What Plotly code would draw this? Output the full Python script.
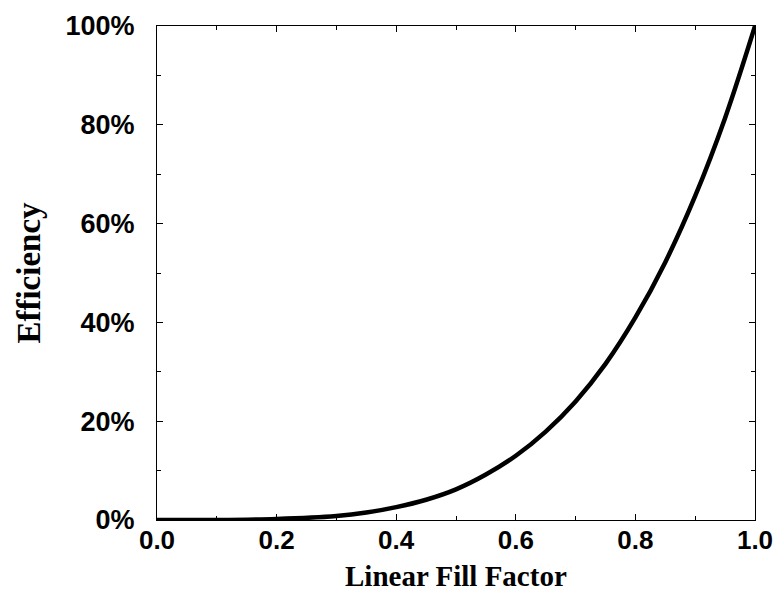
import plotly.graph_objects as go

fill_factor = [0.0, 0.1, 0.2, 0.3, 0.35, 0.4, 0.45, 0.5, 0.55, 0.6, 0.65, 0.7, 0.75, 0.8, 0.85, 0.9, 0.95, 1.0]
efficiency = [0.0, 0.0, 0.2, 0.8, 1.5, 2.6, 4.1, 6.2, 9.2, 13.0, 17.9, 24.0, 31.6, 41.0, 52.2, 65.6, 81.4, 100.0]

x_ticks = [0.0, 0.2, 0.4, 0.6, 0.8, 1.0]
x_tick_labels = ["0.0", "0.2", "0.4", "0.6", "0.8", "1.0"]
y_ticks = [0, 20, 40, 60, 80, 100]
y_tick_labels = ["0%", "20%", "40%", "60%", "80%", "100%"]
x_title = "Linear Fill Factor"
y_title = "Efficiency"

fig = go.Figure()
fig.add_trace(go.Scatter(
    x=fill_factor, y=efficiency, mode="lines",
    line=dict(color="black", width=4.5, shape="spline"),
    showlegend=False,
))

y_tick_font = dict(family="Liberation Sans, Arial, sans-serif", size=27, color="black", weight="bold")
x_tick_font = dict(family="Liberation Sans, Arial, sans-serif", size=26, color="black", weight="bold")
y_title_font = dict(family="Liberation Serif, Times New Roman, serif", size=33, color="black", weight="bold")
x_title_font = dict(family="Liberation Serif, Times New Roman, serif", size=29, color="black", weight="bold")

fig.update_xaxes(
    range=[0, 1], tickvals=x_ticks, ticktext=x_tick_labels,
    ticks="inside", ticklen=6, tickwidth=1, tickcolor="black",
    minor=dict(dtick=0.1, ticks="inside", ticklen=4, tickcolor="black"),
    showline=True, linecolor="black", linewidth=1, mirror="ticks",
    showgrid=False, zeroline=False, automargin=False,
    tickfont=x_tick_font, ticklabelstandoff=-3,
)
fig.update_yaxes(
    range=[0, 100], tickvals=y_ticks, ticktext=y_tick_labels,
    ticks="inside", ticklen=6, tickwidth=1, tickcolor="black",
    minor=dict(dtick=10, ticks="inside", ticklen=4, tickcolor="black"),
    showline=True, linecolor="black", linewidth=1, mirror="ticks",
    showgrid=False, zeroline=False, automargin=False,
    tickfont=y_tick_font, ticklabelstandoff=16,
    title=dict(text=y_title, font=y_title_font, standoff=14),
)
fig.add_annotation(
    text=x_title, xref="paper", yref="paper", x=0.5, y=-0.1498,
    xanchor="center", yanchor="bottom", showarrow=False, font=x_title_font,
)
fig.update_layout(
    width=775, height=594,
    margin=dict(l=157, r=20, t=26, b=74),
    paper_bgcolor="white", plot_bgcolor="white",
)

fig.write_html("out.html")
